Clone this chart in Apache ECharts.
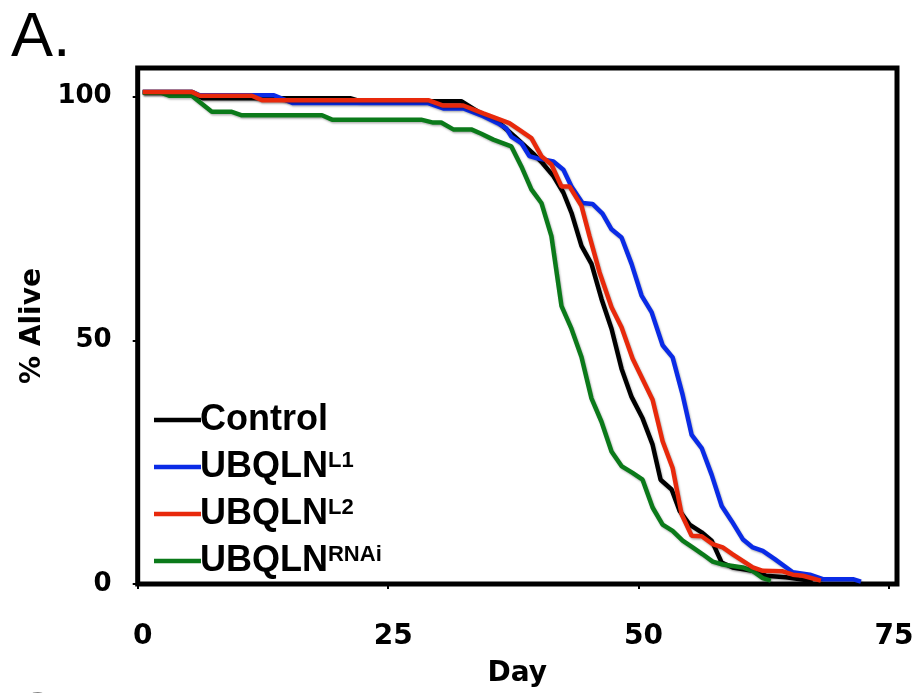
<!DOCTYPE html>
<html>
<head>
<meta charset="utf-8">
<script src="https://cdn.jsdelivr.net/npm/echarts@6/dist/echarts.min.js"></script>
<style>
  html, body { margin: 0; padding: 0; background: #fff; }
  #chart { width: 919px; height: 693px; }
</style>
</head>
<body>
<div id="chart"></div>
<script>
// survival curves, [day, % alive]
const controlData = [
  [0.5, 101], [5.4, 101], [6.5, 99.7], [21.2, 99.7], [22.2, 99.1], [32.3, 99.1],
  [34.1, 96.8], [36.1, 94.6], [37.6, 91.9], [39.6, 88.1], [40.4, 86.4], [41.5, 83.7],
  [42.5, 80.3], [43.3, 76.2], [44.3, 69.4], [45.3, 65.7], [46.3, 58.5], [47.3, 52.4],
  [48.3, 44.2], [49.3, 38.4], [50.4, 34.0], [51.4, 28.6], [52.2, 21.4], [53.3, 19.4],
  [54.1, 15.0], [55.1, 12.2], [56.3, 10.6], [57.3, 8.9], [58.3, 4.4], [59.4, 3.4],
  [61.4, 2.7], [62.7, 1.7], [64.7, 1.4], [66.0, 1.0], [67.4, 0.6]
]
const l1Data = [
  [0.5, 101], [5.4, 101], [6.2, 100.3], [13.6, 100.3], [15.5, 98.7], [29.0, 98.7],
  [30.5, 97.6], [32.5, 97.6], [34.5, 96.0], [36.1, 94.4], [36.8, 93.5], [37.3, 91.8],
  [38.3, 90.5], [39.1, 87.8], [39.8, 87.4], [41.5, 86.7], [42.5, 85.0], [43.3, 81.6],
  [44.4, 78.2], [45.4, 78.0], [46.4, 76.0], [47.3, 72.8], [48.3, 71.1], [49.3, 65.7],
  [50.3, 59.2], [51.3, 55.8], [52.4, 49.0], [53.4, 46.5], [54.4, 38.8], [55.3, 30.6],
  [56.3, 27.9], [57.3, 22.4], [58.3, 16.0], [59.3, 12.9], [60.4, 9.2], [61.4, 7.5],
  [62.4, 6.8], [63.6, 5.1], [65.4, 2.4], [67.1, 1.9], [68.4, 1.0], [71.4, 1.0], [72.2, 0.5]
]
const l2Data = [
  [0.5, 101], [5.4, 101], [6.2, 100.2], [11.4, 100.2], [12.4, 99.3], [29.0, 99.3],
  [30.5, 98.2], [32.5, 98.2], [34.5, 96.6], [37.1, 94.6], [38.1, 93.2], [39.3, 91.5],
  [40.3, 87.8], [41.3, 86.1], [42.3, 81.6], [43.1, 81.6], [44.3, 77.6], [45.1, 71.4],
  [46.1, 64.0], [47.3, 56.8], [48.3, 52.7], [49.4, 46.3], [51.4, 37.8], [52.4, 29.3],
  [53.4, 23.8], [54.3, 14.3], [55.3, 9.9], [56.3, 9.8], [57.4, 8.2], [58.4, 7.5],
  [59.4, 6.1], [61.4, 3.4], [62.4, 2.7], [64.4, 2.6], [65.4, 1.9], [66.4, 1.7], [68.2, 0.7]
]
const rnaiData = [
  [0.5, 100.8], [2.4, 100.8], [3.2, 100.2], [5.4, 100.2], [7.4, 96.9], [9.4, 96.9],
  [10.4, 96.2], [18.4, 96.2], [19.4, 95.3], [28.3, 95.3], [29.5, 94.7], [30.3, 94.7],
  [31.5, 93.3], [33.3, 93.3], [34.3, 92.4], [35.5, 91.2], [37.3, 89.8], [38.3, 85.7],
  [39.3, 81.0], [40.3, 78.2], [41.3, 71.4], [42.3, 57.1], [43.3, 52.4], [44.3, 46.6],
  [45.3, 38.1], [46.3, 33.3], [47.3, 27.2], [48.3, 24.2], [49.4, 22.8], [50.4, 21.4],
  [51.4, 15.7], [52.4, 12.2], [53.4, 10.9], [54.4, 8.9], [55.4, 7.5], [56.4, 6.1],
  [57.4, 4.6], [58.4, 4.0], [59.4, 3.7], [60.4, 3.4], [61.4, 2.7], [62.4, 1.2], [63.2, 0.7]
]
const xTicks = [0, 25, 50, 75]
const yTicks = [0, 50, 100]
const seriesNames = ['Control', 'UBQLN^L1', 'UBQLN^L2', 'UBQLN^RNAi']

const boldNum = 'DejaVu Sans'
const legendFont = 'Liberation Sans'

function makeLine(name, data, color, z) {
  return {
    name: name,
    type: 'line',
    data: data,
    symbol: 'none',
    z: z,
    itemStyle: { color: color },
    lineStyle: {
      color: color,
      width: 4.5,
      shadowColor: 'rgba(0,0,0,0.3)',
      shadowBlur: 2,
      shadowOffsetX: 1,
      shadowOffsetY: 1.5,
    },
  }
}

const chart = echarts.init(document.getElementById('chart'))
chart.setOption({
  animation: false,
  backgroundColor: '#fff',
  grid: {
    left: 137.7,
    right: 22,
    top: 68,
    bottom: 107.5,
    show: true,
    borderColor: '#000',
    borderWidth: 5,
  },
  xAxis: {
    type: 'value',
    min: 0,
    max: 75.8,
    offset: 11,
    name: 'Day',
    nameLocation: 'middle',
    nameGap: 65,
    nameTextStyle: { fontFamily: boldNum, fontWeight: 'bold', fontSize: 28, color: '#000' },
    axisLine: { show: false },
    splitLine: { show: false },
    axisTick: { show: true, length: 5, customValues: xTicks, lineStyle: { color: '#000', width: 2 } },
    axisLabel: {
      customValues: xTicks,
      margin: 28,
      padding: [0, 0, 0, 10],
      fontFamily: boldNum, fontWeight: 'bold', fontSize: 28, color: '#000',
    },
  },
  yAxis: {
    type: 'value',
    min: 0,
    max: 105.9,
    offset: 5,
    name: '% Alive',
    nameLocation: 'middle',
    nameRotate: 90,
    nameGap: 83,
    nameTextStyle: { fontFamily: boldNum, fontWeight: 'bold', fontSize: 28, color: '#000' },
    axisLine: { show: false },
    splitLine: { show: false },
    axisTick: { show: true, length: 5, customValues: yTicks, lineStyle: { color: '#000', width: 2 } },
    axisLabel: {
      customValues: yTicks,
      margin: 21,
      fontFamily: boldNum, fontWeight: 'bold', fontSize: 26, color: '#000',
    },
  },
  legend: {
    orient: 'vertical',
    left: 149,
    top: 397,
    data: seriesNames,
    icon: 'rect',
    itemWidth: 47,
    itemHeight: 4.5,
    itemGap: 11,
    formatter: function (name) {
      const parts = name.split('^')
      return parts.length > 1 ? '{m|' + parts[0] + '}{s|' + parts[1] + '}' : '{m|' + name + '}'
    },
    textStyle: {
      padding: [0, 0, 0, -6],
      rich: {
        m: { fontFamily: legendFont, fontWeight: 'bold', fontSize: 36, color: '#000' },
        s: { fontFamily: legendFont, fontWeight: 'bold', fontSize: 22, color: '#000', padding: [0, 0, 13, 0] },
      },
    },
  },
  graphic: [
    { type: 'text', left: 11, top: 7, style: { text: 'A.', fontFamily: legendFont, fontSize: 63, fill: '#000' } },
    { type: 'text', left: 14, top: 687, style: { text: 'C.', fontFamily: legendFont, fontSize: 62, fill: '#000' } },
  ],
  series: [
    makeLine(seriesNames[0], controlData, '#000000', 1),
    makeLine(seriesNames[1], l1Data, '#0a2be6', 2),
    makeLine(seriesNames[2], l2Data, '#e8290b', 4),
    makeLine(seriesNames[3], rnaiData, '#0b7a1a', 3),
  ],
})
</script>
</body>
</html>
